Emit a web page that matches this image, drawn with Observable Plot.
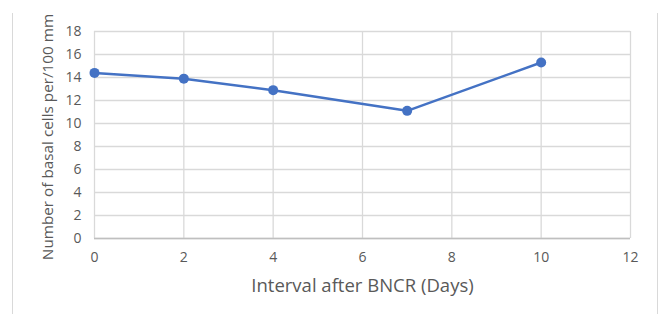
<!DOCTYPE html>
<html>
<head>
<meta charset="utf-8">
<script src="https://cdn.jsdelivr.net/npm/d3@7"></script>
<script src="https://cdn.jsdelivr.net/npm/@observablehq/plot@0.6"></script>
<style>
  html, body { margin: 0; padding: 0; background: #fff; }
  #wrap { position: relative; width: 659px; height: 314px; overflow: hidden; }
  #lb { position: absolute; left: 12px; top: 13px; width: 1px; height: 301px; background: #d9d9d9; }
  #rb { position: absolute; left: 657px; top: 13px; width: 1px; height: 301px; background: #d9d9d9; }
  #chart { position: absolute; left: 0; top: 0; }
</style>
</head>
<body>
<div id="wrap"><div id="lb"></div><div id="rb"></div><div id="chart"></div></div>
<script>
const days = [0, 2, 4, 7, 10];
const basalCells = [14.4, 13.9, 12.9, 11.1, 15.3];
const xTicks = [0, 2, 4, 6, 8, 10, 12];
const yTicks = [0, 2, 4, 6, 8, 10, 12, 14, 16, 18];
const xLabel = "Interval after BNCR (Days)";
const yLabel = "Number of basal cells per/100 mm";

const data = days.map((d, i) => ({day: d, value: basalCells[i]}));
const font = "'Open Sans', 'Liberation Sans', sans-serif";

const chart = Plot.plot({
  width: 659,
  height: 314,
  marginLeft: 94,
  marginRight: 29,
  marginTop: 31,
  marginBottom: 76,
  style: {fontFamily: font, background: "transparent", color: "#595959"},
  x: {domain: [0, 12], ticks: xTicks, label: null},
  y: {domain: [0, 18], ticks: yTicks, label: null},
  marks: [
    Plot.gridX(xTicks, {stroke: "#d9d9d9", strokeOpacity: 1, strokeWidth: 1.3}),
    Plot.gridY(yTicks, {stroke: "#d9d9d9", strokeOpacity: 1, strokeWidth: 1.3}),
    Plot.ruleY([0], {stroke: "#bfbfbf", strokeWidth: 1.3}),
    Plot.axisX(xTicks, {tickSize: 0, tickPadding: 14, fontSize: 14, fill: "#595959", label: null}),
    Plot.axisY(yTicks, {tickSize: 0, tickPadding: 13, fontSize: 14, fill: "#595959", label: null}),
    Plot.line(data, {x: "day", y: "value", stroke: "#4472c4", strokeWidth: 2.5}),
    Plot.dot(data, {x: "day", y: "value", r: 5, fill: "#4472c4", stroke: "none"}),
    Plot.text([xLabel], {frameAnchor: "bottom", dy: 53, fontSize: 18.5, fill: "#595959", text: d => d}),
    Plot.text([yLabel], {frameAnchor: "left", textAnchor: "middle", dx: -46, dy: 2, rotate: -90, fontSize: 15.3, fill: "#595959", text: d => d})
  ]
});
document.getElementById("chart").appendChild(chart);
</script>
</body>
</html>
